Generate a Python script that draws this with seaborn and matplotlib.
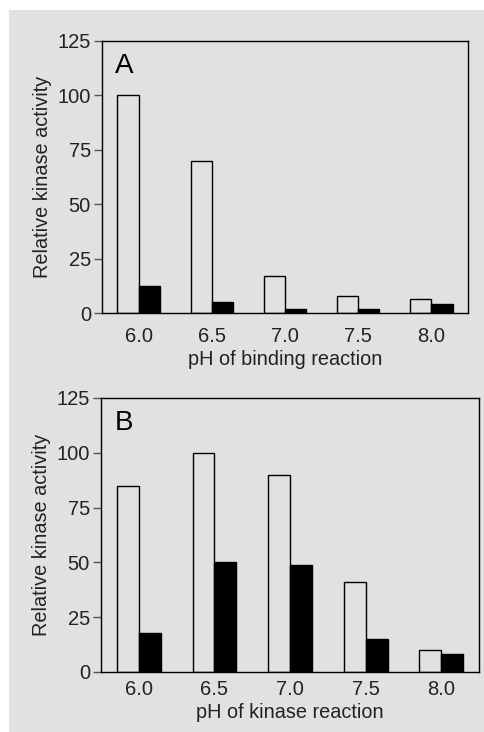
import numpy as np
import pandas as pd
import matplotlib
matplotlib.use("Agg")
import matplotlib.pyplot as plt
import seaborn as sns

# --- 数据 ---
ph_labels = ["6.0", "6.5", "7.0", "7.5", "8.0"]
conditions = ["open", "filled"]

binding_open = [100, 70, 17, 8, 6.5]
binding_filled = [12.5, 5, 2, 2, 4]

kinase_open = [85, 100, 90, 41, 10]
kinase_filled = [18, 50, 49, 15, 8]

y_ticks = [0, 25, 50, 75, 100, 125]

bg = "#e1e1e1"
txt = "#222222"


def make_frame(open_vals, filled_vals):
    rows = []
    for ph, o, f in zip(ph_labels, open_vals, filled_vals):
        rows.append({"pH": ph, "cond": "open", "activity": o})
        rows.append({"pH": ph, "cond": "filled", "activity": f})
    return pd.DataFrame(rows)


def set_style():
    sns.set_style("white")
    plt.rcParams["font.family"] = ["Liberation Sans", "DejaVu Sans"]
    plt.rcParams["axes.linewidth"] = 1.0


def draw_panel(ax, df, letter, xlabel, xpad):
    sns.barplot(data=df, x="pH", y="activity", hue="cond", hue_order=conditions,
                palette=[bg, "black"], edgecolor="black", linewidth=1.0,
                width=0.58, gap=0, legend=False, ax=ax)
    ax.set_facecolor(bg)
    ax.set_xlim(-0.5, 4.5)
    ax.set_ylim(0, 125)
    ax.set_yticks(y_ticks)
    ax.tick_params(axis="y", length=6, width=1, direction="out", pad=2,
                   labelsize=14.5, color="#555555", labelcolor=txt, left=True)
    ax.tick_params(axis="x", length=0, pad=xpad, labelsize=14.5, labelcolor=txt)
    for s in ax.spines.values():
        s.set_visible(True)
        s.set_color("black")
        s.set_linewidth(1.0)
    ax.set_ylabel("Relative kinase activity", fontsize=14.3, color=txt, labelpad=4)
    ax.set_xlabel(xlabel, fontsize=14.3, color=txt, labelpad=3)
    ax.text(0.035, 0.955, letter, transform=ax.transAxes, fontsize=20,
            ha="left", va="top", color="black")


set_style()
fig = plt.figure(figsize=(4.85, 7.32), dpi=100)
fig.patch.set_facecolor("white")
fig.patches.append(plt.Rectangle((9 / 485, 0), 1, (732 - 10) / 732,
                                 transform=fig.transFigure, facecolor=bg,
                                 edgecolor="none", zorder=-10))

ax_a = fig.add_axes([0.2103, 0.5724, 0.7547, 0.3716])
ax_b = fig.add_axes([0.2083, 0.082, 0.7794, 0.3743])

draw_panel(ax_a, make_frame(binding_open, binding_filled), "A", "pH of binding reaction", 10)
draw_panel(ax_b, make_frame(kinase_open, kinase_filled), "B", "pH of kinase reaction", 6)

fig.savefig("out.png", dpi=100, facecolor="white")
